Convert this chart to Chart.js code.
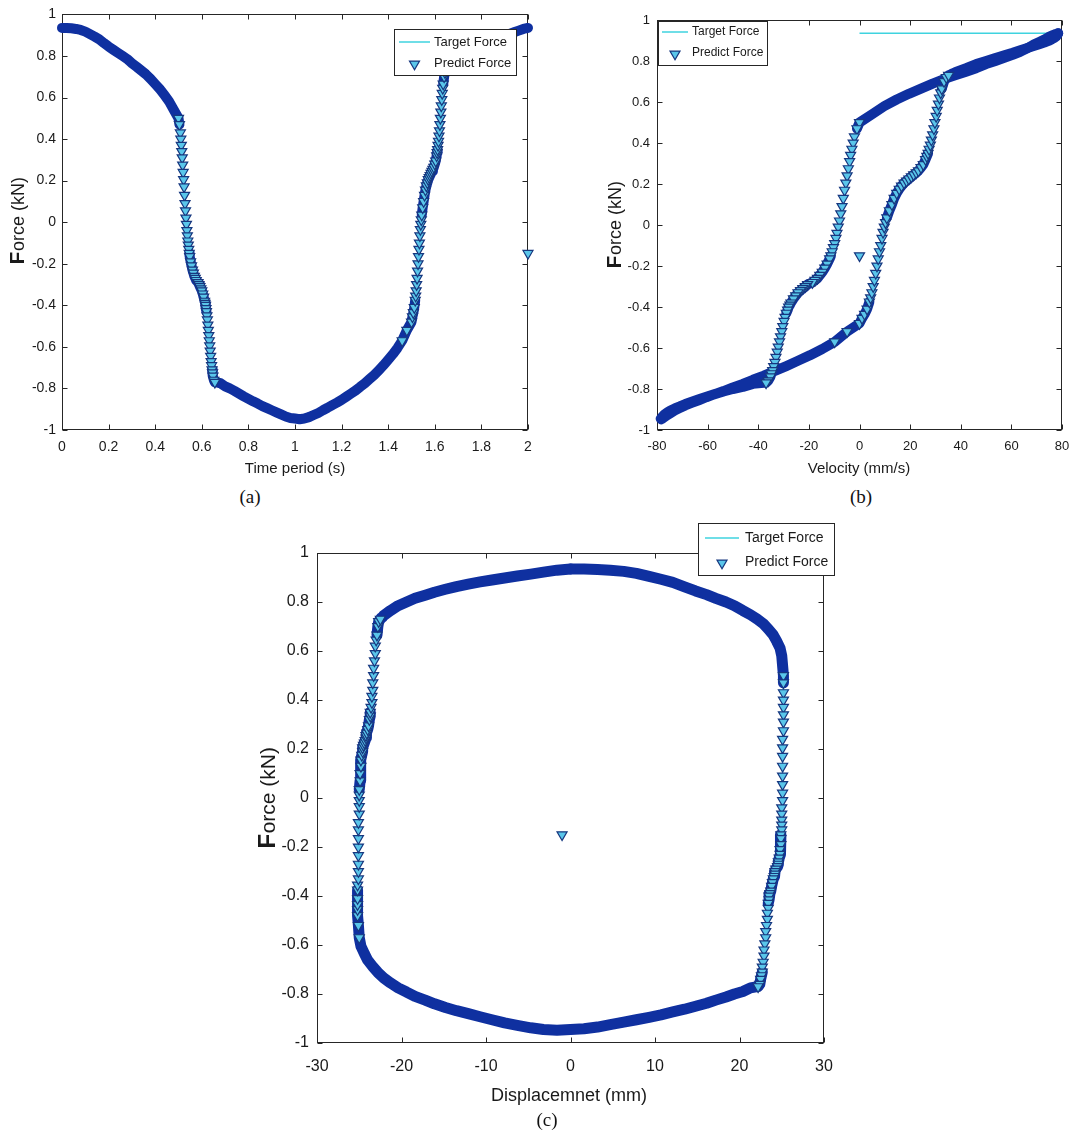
<!DOCTYPE html>
<html>
<head>
<meta charset="utf-8">
<title>Target vs predicted force</title>
<script src="https://cdn.jsdelivr.net/npm/chart.js@4.4.1/dist/chart.umd.min.js"></script>
<style>
  html, body { margin: 0; padding: 0; background: #fff; }
  body { position: relative; width: 1088px; height: 1136px; overflow: hidden; }
  canvas { position: absolute; }
  .caption { position: absolute; font: 19px "Liberation Serif", "Times New Roman", serif; color: #111; transform: translate(-50%, -50%); }
</style>
</head>
<body>
<canvas id="chartA" width="545" height="485" style="left:0;top:0"></canvas>
<canvas id="chartB" width="540" height="485" style="left:548px;top:0"></canvas>
<canvas id="chartC" width="610" height="620" style="left:240px;top:515px"></canvas>
<div class="caption" style="left:250px;top:497px">(a)</div>
<div class="caption" style="left:861px;top:497px">(b)</div>
<div class="caption" style="left:547px;top:1120px">(c)</div>
<script>
// ---- data (one sample per entry) ----
const timeS = [
  0, 0.02, 0.04, 0.06, 0.08, 0.1, 0.12, 0.14, 0.16, 0.18, 0.2, 0.22, 0.24, 0.26, 0.28, 0.3, 0.32, 0.34, 0.36, 0.38, 0.4, 0.42, 0.44, 0.46, 0.48,
  0.5, 0.504, 0.508, 0.51, 0.512, 0.514, 0.516, 0.518, 0.52, 0.522, 0.524, 0.526, 0.528, 0.53, 0.532, 0.534, 0.536, 0.538, 0.54, 0.542,
  0.544, 0.546, 0.548, 0.552, 0.556, 0.56, 0.564, 0.568, 0.572, 0.576, 0.58, 0.584, 0.588, 0.592, 0.596, 0.6, 0.604, 0.608, 0.612, 0.614,
  0.616, 0.618, 0.62, 0.622, 0.624, 0.626, 0.628, 0.63, 0.632, 0.634, 0.636, 0.638, 0.64, 0.642, 0.644, 0.646, 0.648, 0.652, 0.656, 0.66,
  0.68, 0.7, 0.72, 0.74, 0.76, 0.78, 0.8, 0.82, 0.84, 0.86, 0.88, 0.9, 0.92, 0.94, 0.96, 0.98, 1, 1.02, 1.04, 1.06, 1.08, 1.1,
  1.12, 1.14, 1.16, 1.18, 1.2, 1.22, 1.24, 1.26, 1.28, 1.3, 1.32, 1.34, 1.36, 1.38, 1.4, 1.42, 1.44, 1.46, 1.48,
  1.5, 1.504, 1.508, 1.512, 1.516, 1.518, 1.52, 1.522, 1.524, 1.526, 1.528, 1.53, 1.532, 1.534, 1.536, 1.538, 1.54, 1.542, 1.544, 1.548,
  1.552, 1.556, 1.56, 1.564, 1.568, 1.572, 1.576, 1.58, 1.584, 1.588, 1.592, 1.596, 1.6, 1.604, 1.608, 1.61, 1.612, 1.614, 1.616, 1.618,
  1.62, 1.622, 1.624, 1.626, 1.628, 1.63, 1.632, 1.634, 1.636, 1.64, 1.644, 1.648, 1.652, 1.656, 1.66,
  1.68, 1.7, 1.72, 1.74, 1.76, 1.78, 1.8, 1.82, 1.84, 1.86, 1.88, 1.9, 1.92, 1.94, 1.96, 1.98, 2,
  2
];
const targetKN = [
  0.935, 0.935, 0.933, 0.93, 0.925, 0.917, 0.905, 0.893, 0.88, 0.862, 0.845, 0.83, 0.815, 0.8, 0.785, 0.765, 0.748, 0.73, 0.712, 0.69, 0.665, 0.64, 0.612, 0.58, 0.54,
  0.5, 0.47, 0.43, 0.4, 0.37, 0.34, 0.31, 0.275, 0.24, 0.205, 0.17, 0.13, 0.09, 0.055, 0.02, -0.01, -0.04, -0.065, -0.09, -0.11,
  -0.13, -0.15, -0.165, -0.19, -0.21, -0.23, -0.245, -0.26, -0.27, -0.28, -0.285, -0.29, -0.3, -0.31, -0.32, -0.33, -0.345, -0.36, -0.38, -0.39,
  -0.4, -0.415, -0.43, -0.45, -0.47, -0.495, -0.52, -0.545, -0.57, -0.595, -0.62, -0.645, -0.67, -0.69, -0.71, -0.725, -0.74, -0.76, -0.77, -0.77,
  -0.775, -0.79, -0.8, -0.812, -0.825, -0.838, -0.85, -0.862, -0.873, -0.885, -0.895, -0.905, -0.915, -0.925, -0.935, -0.942, -0.945, -0.948, -0.945, -0.938, -0.928, -0.918,
  -0.905, -0.893, -0.88, -0.868, -0.855, -0.84, -0.825, -0.81, -0.792, -0.775, -0.755, -0.735, -0.712, -0.688, -0.662, -0.635, -0.605, -0.57, -0.52,
  -0.48, -0.455, -0.435, -0.41, -0.375, -0.355, -0.33, -0.3, -0.27, -0.235, -0.2, -0.165, -0.13, -0.1, -0.065, -0.035, -0.01, 0.012, 0.035, 0.07,
  0.1, 0.13, 0.155, 0.175, 0.19, 0.205, 0.215, 0.225, 0.235, 0.245, 0.255, 0.265, 0.28, 0.295, 0.32, 0.335, 0.35, 0.37, 0.39, 0.415,
  0.44, 0.47, 0.5, 0.53, 0.56, 0.59, 0.62, 0.645, 0.665, 0.7, 0.72, 0.73, 0.735, 0.74, 0.745,
  0.765, 0.785, 0.8, 0.815, 0.828, 0.84, 0.852, 0.863, 0.873, 0.882, 0.89, 0.898, 0.906, 0.914, 0.922, 0.93, 0.935,
  0.935
];
const velocityMMs = [
  78.5, 78.3, 77.9, 77.1, 76.0, 74.7, 73.0, 71.0, 68.8, 66.3, 63.5, 60.5, 57.2, 53.7, 50.0, 46.1, 42.1, 37.8, 33.4, 28.9, 24.3, 19.5, 14.7, 9.8, 4.9,
  0, -1.0, -2.0, -2.5, -3.0, -3.5, -3.9, -4.4, -4.9, -5.4, -5.9, -6.4, -6.9, -7.4, -7.9, -8.4, -8.9, -9.3, -9.8, -10.3,
  -10.8, -11.3, -11.8, -12.8, -13.7, -14.7, -15.7, -16.6, -17.6, -18.6, -19.5, -20.5, -21.4, -22.4, -23.3, -24.3, -25.2, -26.1, -27.1, -27.5,
  -28.0, -28.4, -28.9, -29.4, -29.8, -30.3, -30.7, -31.2, -31.6, -32.1, -32.5, -33.0, -33.4, -33.9, -34.3, -34.8, -35.2, -36.1, -36.9, -37.8,
  -42.1, -46.1, -50.0, -53.7, -57.2, -60.5, -63.5, -66.3, -68.8, -71.0, -73.0, -74.7, -76.0, -77.1, -77.9, -78.3, -78.5, -78.3, -77.9, -77.1, -76.0, -74.7,
  -73.0, -71.0, -68.8, -66.3, -63.5, -60.5, -57.2, -53.7, -50.0, -46.1, -42.1, -37.8, -33.4, -28.9, -24.3, -19.5, -14.7, -9.8, -4.9,
  0, 1.0, 2.0, 3.0, 3.9, 4.4, 4.9, 5.4, 5.9, 6.4, 6.9, 7.4, 7.9, 8.4, 8.9, 9.3, 9.8, 10.3, 10.8, 11.8,
  12.8, 13.7, 14.7, 15.7, 16.6, 17.6, 18.6, 19.5, 20.5, 21.4, 22.4, 23.3, 24.3, 25.2, 26.1, 26.6, 27.1, 27.5, 28.0, 28.4,
  28.9, 29.4, 29.8, 30.3, 30.7, 31.2, 31.6, 32.1, 32.5, 33.4, 34.3, 35.2, 36.1, 36.9, 37.8,
  42.1, 46.1, 50.0, 53.7, 57.2, 60.5, 63.5, 66.3, 68.8, 71.0, 73.0, 74.7, 76.0, 77.1, 77.9, 78.3, 78.5,
  0
];
const displacementMM = [
  0, 1.6, 3.2, 4.7, 6.3, 7.8, 9.3, 10.7, 12.1, 13.5, 14.8, 16.1, 17.2, 18.4, 19.4, 20.4, 21.3, 22.1, 22.8, 23.4, 24.0, 24.4, 24.8, 25.0, 25.1,
  25.2, 25.2, 25.2, 25.2, 25.2, 25.2, 25.2, 25.2, 25.1, 25.1, 25.1, 25.1, 25.1, 25.1, 25.1, 25.1, 25.0, 25.0, 25.0, 25.0,
  25.0, 24.9, 24.9, 24.9, 24.8, 24.8, 24.7, 24.6, 24.6, 24.5, 24.4, 24.3, 24.2, 24.2, 24.1, 24.0, 23.9, 23.8, 23.7, 23.6,
  23.5, 23.5, 23.4, 23.4, 23.3, 23.3, 23.2, 23.1, 23.1, 23.0, 22.9, 22.9, 22.8, 22.7, 22.7, 22.6, 22.5, 22.4, 22.2, 22.1,
  21.3, 20.4, 19.4, 18.4, 17.2, 16.1, 14.8, 13.5, 12.1, 10.7, 9.3, 7.8, 6.3, 4.7, 3.2, 1.6, 0, -1.6, -3.2, -4.7, -6.3, -7.8,
  -9.3, -10.7, -12.1, -13.5, -14.8, -16.1, -17.2, -18.4, -19.4, -20.4, -21.3, -22.1, -22.8, -23.4, -24.0, -24.4, -24.8, -25.0, -25.1,
  -25.2, -25.2, -25.2, -25.2, -25.2, -25.2, -25.1, -25.1, -25.1, -25.1, -25.1, -25.1, -25.1, -25.1, -25.0, -25.0, -25.0, -25.0, -25.0, -24.9,
  -24.9, -24.8, -24.8, -24.7, -24.6, -24.6, -24.5, -24.4, -24.3, -24.2, -24.2, -24.1, -24.0, -23.9, -23.8, -23.7, -23.7, -23.6, -23.5, -23.5,
  -23.4, -23.4, -23.3, -23.3, -23.2, -23.1, -23.1, -23.0, -22.9, -22.8, -22.7, -22.5, -22.4, -22.2, -22.1,
  -21.3, -20.4, -19.4, -18.4, -17.2, -16.1, -14.8, -13.5, -12.1, -10.7, -9.3, -7.8, -6.3, -4.7, -3.2, -1.6, 0,
  -1.0
];
// the last predicted sample is the stray one near -0.15 kN
const predictOutlierKN = -0.15;

const forceTicks = [-1, -0.8, -0.6, -0.4, -0.2, 0, 0.2, 0.4, 0.6, 0.8, 1];
const timeTicks = [0, 0.2, 0.4, 0.6, 0.8, 1, 1.2, 1.4, 1.6, 1.8, 2];
const velocityTicks = [-80, -60, -40, -20, 0, 20, 40, 60, 80];
const displacementTicks = [-30, -20, -10, 0, 10, 20, 30];
const seriesLabels = ['Target Force', 'Predict Force'];

// ---- styling ----
const FONT = '"Liberation Sans", Arial, sans-serif';
const INK = '#1a1a1a';
const CYAN = '#3fd3df';
const BAND = '#0f30a0';
const EDGE = '#17377f';
const FILL = '#5ac6ea';
const MARK_R = 5.8;
const BAND_RATE = 9.5; // kN/s: faster than this the markers separate
const MARK_RATE = 2.2; // kN/s: faster than this single markers show

function rate(d, i, j) {
  const dt = Math.abs(timeS[j] - timeS[i]);
  const df = Math.abs(d[j].y - d[i].y);
  if (dt === 0) return df === 0 ? 0 : Infinity;
  return df / dt;
}

function makeDatasets(xs, bandWidth) {
  const last = xs.length - 1;
  const target = xs.map((x, i) => ({ x, y: targetKN[i] }));
  const predict = xs.map((x, i) => ({ x, y: i === last ? predictOutlierKN : targetKN[i] }));
  return [
    {
      label: seriesLabels[0], data: target, showLine: true,
      borderColor: CYAN, borderWidth: 1.5, pointRadius: 0, order: 1, clip: 7
    },
    {
      label: seriesLabels[1], data: predict, showLine: true,
      borderColor: BAND, borderWidth: bandWidth, borderCapStyle: 'round', borderJoinStyle: 'round',
      segment: {
        borderColor: c => {
          const d = c.chart.data.datasets[c.datasetIndex].data;
          return rate(d, c.p0DataIndex, c.p1DataIndex) > BAND_RATE ? 'rgba(0,0,0,0)' : undefined;
        }
      },
      pointStyle: 'triangle', pointRotation: 180,
      pointBackgroundColor: FILL, pointBorderColor: EDGE, pointBorderWidth: 1.2,
      pointRadius: c => {
        const d = c.dataset.data, i = c.dataIndex;
        if (i === last) return MARK_R;
        const rp = i > 0 ? rate(d, i - 1, i) : 0;
        const rn = i < last - 1 ? rate(d, i, i + 1) : 0;
        return Math.max(rp, rn) > MARK_RATE ? MARK_R : 0;
      },
      order: 0, clip: 7
    }
  ];
}

function axis(tickValues, min, max, size, pad, fit) {
  return {
    type: 'linear', min, max,
    afterBuildTicks: s => { s.ticks = tickValues.map(v => ({ value: v })); },
    afterFit: fit,
    grid: { display: false, drawTicks: false },
    border: { display: false },
    ticks: { font: { family: FONT, size }, color: INK, padding: pad, autoSkip: false, maxRotation: 0, callback: v => String(v) }
  };
}

// MATLAB-like box, inward ticks, titles and boxed legend
const frame = {
  id: 'frame',
  beforeDatasetsDraw(chart) {
    const { ctx, chartArea: a, scales } = chart;
    const L = Math.round(a.left) + 0.5, R = Math.round(a.right) - 0.5;
    const T = Math.round(a.top) + 0.5, B = Math.round(a.bottom) - 0.5;
    ctx.save();
    ctx.strokeStyle = '#262626';
    ctx.lineWidth = 1;
    ctx.strokeRect(L, T, R - L, B - T);
    ctx.beginPath();
    scales.x.ticks.forEach(t => {
      const px = Math.round(scales.x.getPixelForValue(t.value)) + 0.5;
      ctx.moveTo(px, B); ctx.lineTo(px, B - 5);
      ctx.moveTo(px, T); ctx.lineTo(px, T + 5);
    });
    scales.y.ticks.forEach(t => {
      const py = Math.round(scales.y.getPixelForValue(t.value)) + 0.5;
      ctx.moveTo(L, py); ctx.lineTo(L + 5, py);
      ctx.moveTo(R, py); ctx.lineTo(R - 5, py);
    });
    ctx.stroke();
    ctx.restore();
  },
  afterDraw(chart, args, o) {
    const { ctx } = chart;
    ctx.save();
    ctx.fillStyle = INK;
    // x title
    ctx.font = `${o.xTitle.size}px ${FONT}`;
    ctx.textAlign = 'center';
    ctx.textBaseline = 'middle';
    ctx.fillText(o.xTitle.text, o.xTitle.x, o.xTitle.y);
    // y title with the bold leading F
    const yt = o.yTitle;
    ctx.save();
    ctx.translate(yt.x, yt.y);
    ctx.rotate(-Math.PI / 2);
    ctx.textBaseline = 'alphabetic';
    ctx.textAlign = 'left';
    const bigFont = `bold ${yt.size + 3}px ${FONT}`, smallFont = `${yt.size}px ${FONT}`;
    ctx.font = bigFont;
    const wF = ctx.measureText('F').width;
    ctx.font = smallFont;
    const wRest = ctx.measureText('orce (kN)').width;
    const x0 = -(wF + wRest) / 2, base = yt.size * 0.36;
    ctx.font = bigFont;
    ctx.fillText('F', x0, base);
    ctx.font = smallFont;
    ctx.fillText('orce (kN)', x0 + wF + 0.5, base);
    ctx.restore();
    // legend
    const lg = o.legend;
    ctx.fillStyle = '#fff';
    ctx.fillRect(lg.x, lg.y, lg.w, lg.h);
    ctx.strokeStyle = '#262626';
    ctx.lineWidth = 1;
    ctx.strokeRect(lg.x + 0.5, lg.y + 0.5, lg.w, lg.h);
    ctx.strokeStyle = CYAN;
    ctx.lineWidth = 1.5;
    ctx.beginPath();
    ctx.moveTo(lg.lineX0, lg.row1);
    ctx.lineTo(lg.lineX1, lg.row1);
    ctx.stroke();
    ctx.fillStyle = FILL;
    ctx.strokeStyle = EDGE;
    ctx.lineWidth = 1.2;
    Chart.helpers.drawPoint(ctx, { pointStyle: 'triangle', rotation: 180, radius: MARK_R, borderWidth: 1.2 },
      (lg.lineX0 + lg.lineX1) / 2, lg.row2 + 1);
    ctx.fillStyle = INK;
    ctx.font = `${lg.size}px ${FONT}`;
    ctx.textAlign = 'left';
    ctx.textBaseline = 'middle';
    ctx.fillText(seriesLabels[0], lg.textX, lg.row1);
    ctx.fillText(seriesLabels[1], lg.textX, lg.row2);
    ctx.restore();
  }
};

function panel(id, xs, xTicks, xMin, xMax, cfg) {
  new Chart(document.getElementById(id), {
    type: 'scatter',
    data: { datasets: makeDatasets(xs, cfg.band) },
    options: {
      responsive: false,
      animation: false,
      events: [],
      layout: { padding: cfg.padding },
      scales: {
        x: axis(xTicks, xMin, xMax, cfg.tickSize, cfg.xPad, s => { s.height = cfg.xHeight; }),
        y: axis(forceTicks, -1, 1, cfg.tickSize, cfg.yPad, s => { s.width = cfg.yWidth; })
      },
      plugins: {
        legend: { display: false },
        tooltip: { enabled: false },
        frame: cfg.frame
      }
    },
    plugins: [frame]
  });
}

panel('chartA', timeS, timeTicks, 0, 2, {
  band: 10, tickSize: 14, xPad: 9, yPad: 6, xHeight: 55, yWidth: 62,
  padding: { top: 13, right: 17, bottom: 0, left: 0 },
  frame: {
    xTitle: { text: 'Time period (s)', x: 295, y: 469, size: 15 },
    yTitle: { x: 18, y: 221, size: 18 },
    legend: { x: 394, y: 29, w: 122, h: 46, lineX0: 399, lineX1: 430, textX: 434, row1: 42, row2: 63, size: 13 }
  }
});

panel('chartB', velocityMMs, velocityTicks, -80, 80, {
  band: 10, tickSize: 13, xPad: 9, yPad: 7, xHeight: 55, yWidth: 109,
  padding: { top: 20, right: 26, bottom: 0, left: 0 },
  frame: {
    xTitle: { text: 'Velocity (mm/s)', x: 311, y: 469, size: 15 },
    yTitle: { x: 67, y: 225, size: 18 },
    legend: { x: 110, y: 21, w: 109, h: 44, lineX0: 114, lineX1: 140, textX: 144, row1: 32, row2: 53, size: 12 }
  }
});

panel('chartC', displacementMM, displacementTicks, -30, 30, {
  band: 11, tickSize: 16, xPad: 14, yPad: 8, xHeight: 92, yWidth: 77,
  padding: { top: 38, right: 26, bottom: 0, left: 0 },
  frame: {
    xTitle: { text: 'Displacemnet (mm)', x: 329, y: 581, size: 18 },
    yTitle: { x: 27, y: 283, size: 21 },
    legend: { x: 458, y: 8, w: 136, h: 52, lineX0: 465, lineX1: 499, textX: 505, row1: 23, row2: 47, size: 14 }
  }
});
</script>
</body>
</html>
